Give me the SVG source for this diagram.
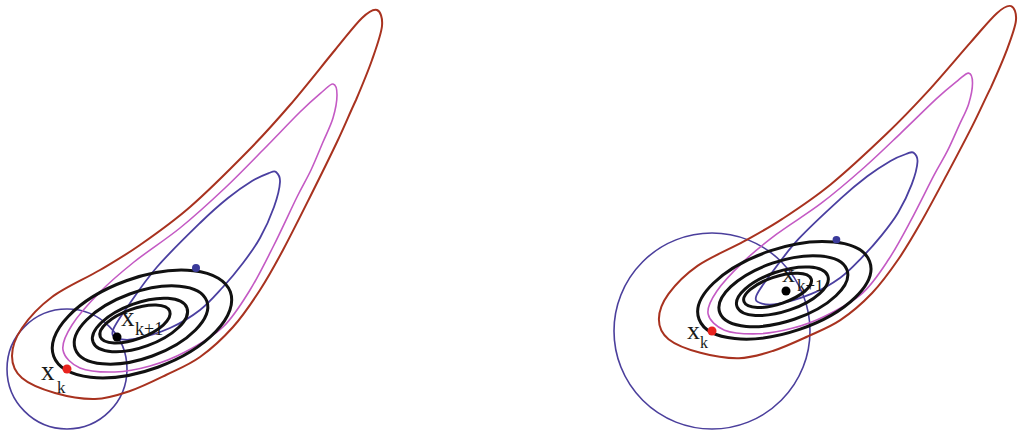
<svg xmlns="http://www.w3.org/2000/svg" xmlns:xlink="http://www.w3.org/1999/xlink" width="1018" height="430" viewBox="0 0 1018 430">
<style>
.red{fill:none;stroke:#a8321f;stroke-width:2}
.mag{fill:none;stroke:#c45ac4;stroke-width:1.6}
.blu{fill:none;stroke:#4a3fa0;stroke-width:1.8}
.ell{fill:none;stroke:#111;stroke-width:3}
.tr{fill:none;stroke:#4b3f9c;stroke-width:1.6}
.lbl{font-family:"Liberation Serif","Times New Roman",serif;fill:#1a1a1a}
.red,.mag,.blu,.ell{vector-effect:non-scaling-stroke}
</style>
<defs>
<g id="banana">
<path class="red" d="M 377,10 C 380.3,11.3 382.8,17.7 382,26 C 381.2,34.3 376.3,47.7 372,60 C 367.7,72.3 361.8,86.3 356,100 C 349.5,113.7 344.7,125.8 337,142 C 329.3,158.2 319,179 310,197 C 301,215 291.3,234.5 283,250 C 274.7,265.5 268.3,277.2 260,290 C 251.7,302.8 243,315.8 233,327 C 223,338.2 211.2,349 200,357 C 188.8,365 177.7,369.3 166,375 C 154.3,380.7 141.8,387 130,391 C 118.2,395 107.5,398.7 95,399 C 82.5,399.3 67.2,396.5 55,393 C 42.8,389.5 29.2,384.2 22,378 C 14.8,371.8 12,364.3 12,356 C 12,347.7 15.3,337.8 22,328 C 28.7,318.2 39,306.7 52,297 C 65,287.3 85.3,278.7 100,270 C 114.7,261.3 125,255.5 140,245 C 155,234.5 172,222.7 190,207 C 208,191.3 231.3,168 248,151 C 264.7,134 275.5,121.8 290,105 C 305,87.5 323,64.5 335,50 C 347,35.5 355,24.7 362,18 C 369,11.3 373.7,8.7 377,10 Z"/>
<path class="mag" d="M 333,84 C 335.5,84.5 337,89.3 337,95 C 337,100.7 335.3,110.2 333,118 C 330.7,125.8 326.7,133.3 323,142 C 319.3,150.7 315.3,160.8 311,170 C 306.7,179.2 303.3,184.2 297,197 C 290.7,209.8 280.8,231.5 273,247 C 265.2,262.5 258.3,276.7 250,290 C 241.7,303.3 233.8,316.7 223,327 C 212.2,337.3 197.2,345.5 185,352 C 172.8,358.5 161.7,362.7 150,366 C 138.3,369.3 126.7,371.7 115,372 C 103.3,372.3 88.7,371.7 80,368 C 71.3,364.3 64.3,357.2 63,350 C 61.7,342.8 65.8,334.7 72,325 C 78.2,315.3 89.7,302.5 100,292 C 110.3,281.5 120.7,272.7 134,262 C 147.3,251.3 164.8,240.3 180,228 C 195.2,215.7 211.2,201 225,188 C 238.8,175 250.5,162.7 263,150 C 275.5,137.3 290.2,121.7 300,112 C 309.8,102.3 316.5,96.7 322,92 C 327.5,87.3 330.5,83.5 333,84 Z"/>
<path class="blu" d="M 276,172 C 277.8,173.5 280.3,176.2 280,182 C 279.7,187.8 277.3,197.7 274,207 C 270.7,216.3 265.2,228.7 260,238 C 254.8,247.3 249.2,254.8 243,263 C 236.8,271.2 230.2,279.2 223,287 C 215.8,294.8 208.8,303.2 200,310 C 191.2,316.8 180.8,323.2 170,328 C 159.2,332.8 143.8,337.3 135,339 C 126.2,340.7 120.7,339.5 117,338 C 113.3,336.5 111.2,335.3 113,330 C 114.8,324.7 120.7,316.5 128,306 C 135.3,295.5 145,280.8 157,267 C 169,253.2 188.2,234.5 200,223 C 211.8,211.5 219.3,205 228,198 C 236.7,191 245.2,185.2 252,181 C 258.8,176.8 265,174.5 269,173 C 273,171.5 274.2,170.5 276,172 Z"/>
</g>
<g id="model">
<ellipse class="ell" cx="142" cy="324" rx="94" ry="46" transform="rotate(-20 142 324)"/>
<ellipse class="ell" cx="141" cy="325" rx="70" ry="33" transform="rotate(-20 141 325)"/>
<ellipse class="ell" cx="140" cy="325" rx="50" ry="22" transform="rotate(-20 140 325)"/>
<ellipse class="ell" cx="135" cy="324" rx="37" ry="15" transform="rotate(-20 135 324)"/>
<circle cx="196" cy="268" r="4" fill="#3a3a9a"/>
</g>
</defs>

<g id="left-panel">
  <circle id="trust-region-left" class="tr" cx="67" cy="369" r="60"/>
  <use xlink:href="#banana"/>
  <g id="label-xk-left" class="lbl"><text x="41" y="380" font-size="27">x</text><text x="57" y="393" font-size="17">k</text></g>
  <g id="label-xk1-left" class="lbl"><text x="121" y="326" font-size="27">x</text><text x="135" y="335" font-size="18">k+1</text></g>
  <use xlink:href="#model"/>
  <circle id="xk-left" cx="67" cy="369" r="4.5" fill="#e8231e"/>
  <circle id="xk1-left" cx="117" cy="337" r="4.5" fill="#000"/>
</g>

<g id="right-panel">
  <circle id="trust-region-right" class="tr" cx="712" cy="331" r="98"/>
  <use xlink:href="#banana" transform="matrix(0.965 0 0 0.905 647.3 -2.9)"/>
  <g id="label-xk-right" class="lbl"><text x="687" y="339" font-size="26">x</text><text x="700" y="348" font-size="16">k</text></g>
  <g id="label-xk1-right" class="lbl"><text x="782" y="282" font-size="26">x</text><text x="797" y="291" font-size="17">k+1</text></g>
  <use xlink:href="#model" transform="matrix(0.965 0 0 0.905 647.3 -2.9)"/>
  <circle id="xk-right" cx="712" cy="331" r="4.5" fill="#e8231e"/>
  <circle id="xk1-right" cx="786" cy="291" r="4.5" fill="#000"/>
</g>
</svg>
